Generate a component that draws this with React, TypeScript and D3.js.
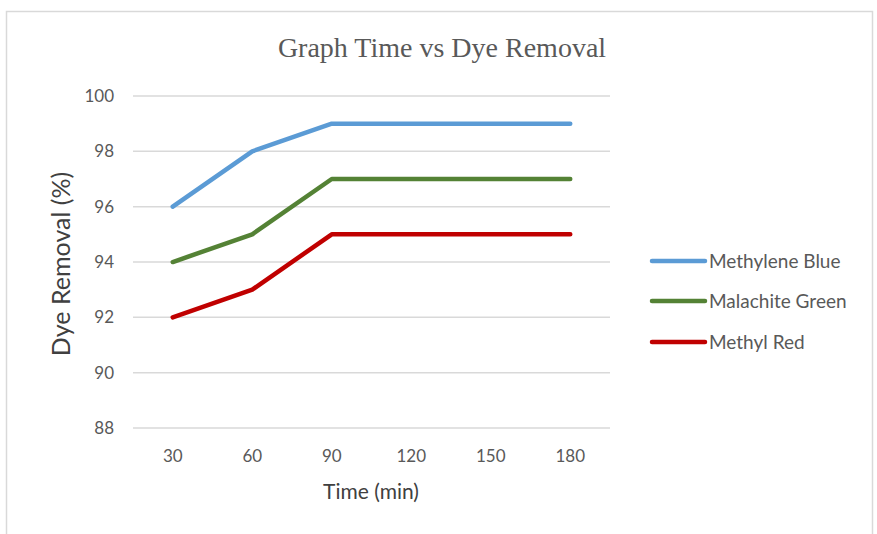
import React from "react";
import * as d3 from "d3";

const categories = ["30", "60", "90", "120", "150", "180"];
const methyleneBlue = [96, 98, 99, 99, 99, 99];
const malachiteGreen = [94, 95, 97, 97, 97, 97];
const methylRed = [92, 93, 95, 95, 95, 95];
const yTicks = [88, 90, 92, 94, 96, 98, 100];
const seriesNames = ["Methylene Blue", "Malachite Green", "Methyl Red"];
const seriesColors = ["#5b9bd5", "#548235", "#c00000"];

export default function App() {
  const W = 877, H = 534;
  const plotL = 133, plotR = 610, plotT = 96, plotB = 428;
  const x = d3.scaleBand<string>().domain(categories).range([plotL, plotR]);
  const y = d3.scaleLinear().domain([88, 100]).range([plotB, plotT]);
  const line = d3
    .line<number>()
    .x((_, i) => (x(categories[i]) as number) + x.bandwidth() / 2)
    .y((v) => y(v));
  const allSeries = [methyleneBlue, malachiteGreen, methylRed];
  const font = "Lato, 'Open Sans', sans-serif";
  const legendY = [261, 301, 342];
  return (
    <svg
      width={W}
      height={H}
      style={{ position: "absolute", left: 0, top: 0, background: "#fff" }}
    >
      <rect x={6.5} y={11.5} width={866} height={530} fill="#fff" stroke="#d9d9d9" strokeWidth={1.5} />
      <text
        x={442}
        y={57}
        textAnchor="middle"
        fontFamily="'Liberation Serif', 'Times New Roman', serif"
        fontSize={28}
        fill="#595959"
      >
        Graph Time vs Dye Removal
      </text>
      {yTicks.map((t) => (
        <g key={t}>
          <line x1={plotL} x2={plotR} y1={y(t)} y2={y(t)} stroke="#d9d9d9" strokeWidth={1.5} />
          <text
            x={114}
            y={y(t)}
            dy="0.35em"
            textAnchor="end"
            fontFamily={font}
            fontSize={17}
            fill="#595959"
          >
            {t}
          </text>
        </g>
      ))}
      {categories.map((c) => (
        <text
          key={c}
          x={(x(c) as number) + x.bandwidth() / 2}
          y={462}
          textAnchor="middle"
          fontFamily={font}
          fontSize={17}
          fill="#595959"
        >
          {c}
        </text>
      ))}
      <text
        x={371}
        y={499}
        textAnchor="middle"
        fontFamily={font}
        fontSize={21}
        fill="#404040"
      >
        Time (min)
      </text>
      <text
        transform={`translate(70,264) rotate(-90)`}
        textAnchor="middle"
        fontFamily={font}
        fontSize={25}
        fill="#404040"
      >
        Dye Removal (%)
      </text>
      {allSeries.map((s, i) => (
        <path
          key={i}
          d={line(s) || ""}
          fill="none"
          stroke={seriesColors[i]}
          strokeWidth={4.5}
          strokeLinejoin="round"
          strokeLinecap="round"
        />
      ))}
      {seriesNames.map((n, i) => (
        <g key={n}>
          <line
            x1={652}
            x2={705}
            y1={legendY[i]}
            y2={legendY[i]}
            stroke={seriesColors[i]}
            strokeWidth={4.5}
            strokeLinecap="round"
          />
          <text
            x={709}
            y={legendY[i]}
            dy="0.35em"
            fontFamily={font}
            fontSize={19}
            fill="#595959"
          >
            {n}
          </text>
        </g>
      ))}
    </svg>
  );
}
